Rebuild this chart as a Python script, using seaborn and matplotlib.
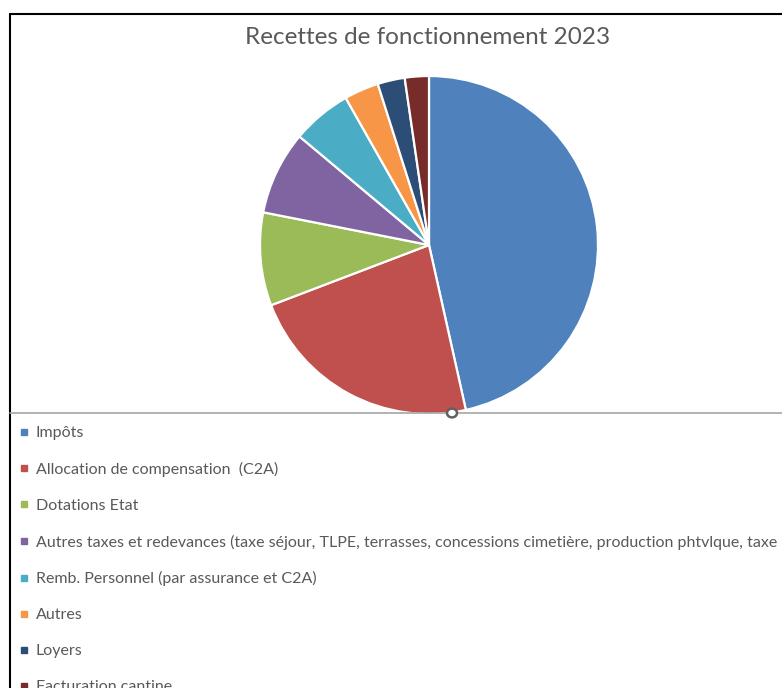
import matplotlib
matplotlib.use("Agg")
import matplotlib.pyplot as plt
import seaborn as sns
from matplotlib.lines import Line2D
from matplotlib.patches import Circle

categories = [
    "Impôts",
    "Allocation de compensation  (C2A)",
    "Dotations Etat",
    "Autres taxes et redevances (taxe séjour, TLPE, terrasses, concessions cimetière, production phtvlque, taxe sur l'électricité)",
    "Remb. Personnel (par assurance et C2A)",
    "Autres",
    "Loyers",
    "Facturation cantine",
]
values = [46.5, 22.7, 8.9, 8.0, 5.7, 3.3, 2.6, 2.3]
colors = ["#4F81BD", "#C0504D", "#9BBB59", "#8064A2", "#4BACC6", "#F79646", "#2C4D75", "#772C2A"]
title = "Recettes de fonctionnement 2023"

sns.set_theme(style="white")
plt.rcParams["font.family"] = ["Lato", "DejaVu Sans"]

W, H = 782, 688
fig = plt.figure(figsize=(W / 100, H / 100), dpi=100)
fig.patch.set_facecolor("white")

# pie axes: center (429,245), radius 169 px
cx, cy, r = 429, 245, 169
ax = fig.add_axes([(cx - r) / W, (H - cy - r) / H, 2 * r / W, 2 * r / H])
wedges, _ = ax.pie(values, colors=sns.color_palette(colors), startangle=90, counterclock=False,
                   radius=1, wedgeprops=dict(edgecolor="white", linewidth=1.6))
ax.set_xlim(-1.0, 1.0)
ax.set_ylim(-1.0, 1.0)
ax.set_aspect("equal")
ax.axis("off")

fig.text(428 / W, 1 - 37 / H, title, ha="center", va="center", fontsize=17.5, color="#595959")

# borders
def px_line(x0, y0, x1, y1, **kw):
    fig.add_artist(Line2D([x0 / W, x1 / W], [1 - y0 / H, 1 - y1 / H], transform=fig.transFigure, **kw))

px_line(10, 13.5, 782, 13.5, color="black", lw=1.5)
px_line(10, 13.5, 10, 688, color="black", lw=1.5)
px_line(10, 412.5, 782, 412.5, color="#A6A6A6", lw=1.2)
fig.add_artist(Circle((452 / W, 1 - 413 / H), 5 / W, transform=fig.transFigure,
                      facecolor="white", edgecolor="#606060", lw=1.8, zorder=10))

# legend
handles = [Line2D([], [], marker="s", linestyle="none", markersize=4.5, markerfacecolor=c,
                  markeredgecolor=c) for c in colors]
leg = fig.legend(handles, categories, loc="upper left", bbox_to_anchor=(19 / W, 1 - 426 / H),
                 frameon=False, fontsize=11.5, labelcolor="#595959", handlelength=0.6,
                 handletextpad=0.45, labelspacing=1.36, borderaxespad=0, borderpad=0)

fig.savefig("out.png", dpi=100)
